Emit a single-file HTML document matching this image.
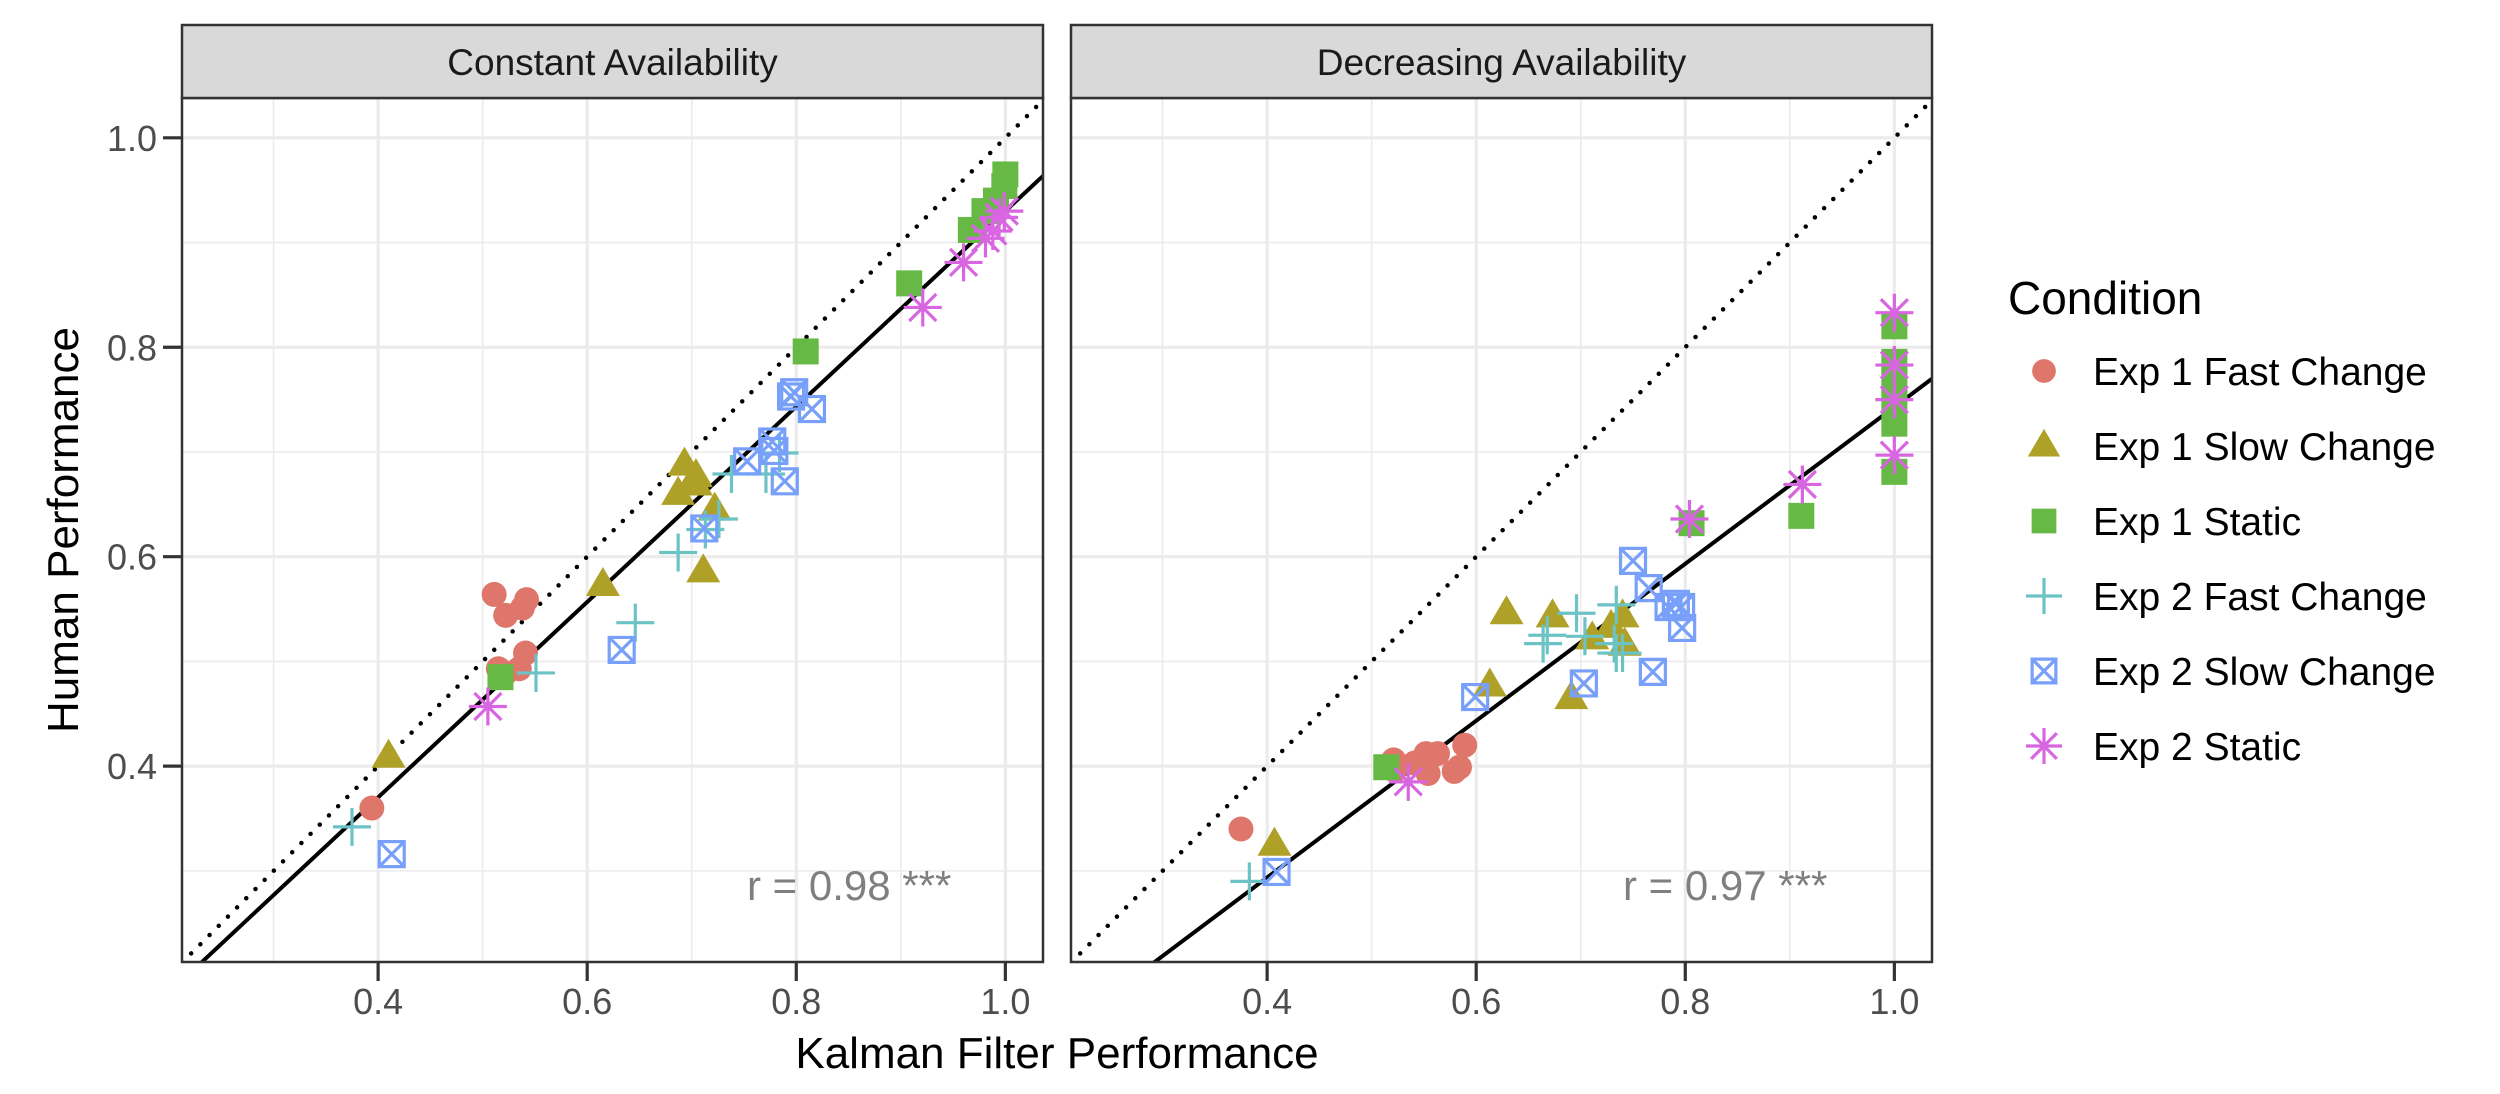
<!DOCTYPE html>
<html><head><meta charset="utf-8">
<style>
html,body{margin:0;padding:0;background:#fff;}
svg{display:block;font-family:"Liberation Sans",Arial,sans-serif;}
</style></head>
<body>
<svg id="chart" width="2500" height="1094" viewBox="0 0 2500 1094" xmlns="http://www.w3.org/2000/svg">
<g id="root"></g>
</svg>
<script>
// ---- data ----
const seriesNames = ["Exp 1 Fast Change","Exp 1 Slow Change","Exp 1 Static","Exp 2 Fast Change","Exp 2 Slow Change","Exp 2 Static"];
const panelTitles = ["Constant Availability","Decreasing Availability"];
const xTicks = [0.4,0.6,0.8,1.0];
const yTicks = [0.4,0.6,0.8,1.0];
const xTickLabels = ["0.4","0.6","0.8","1.0"];
const yTickLabels = ["0.4","0.6","0.8","1.0"];
const minorTicks = [0.3,0.5,0.7,0.9];
const corrLabels = ["r = 0.98 ***","r = 0.97 ***"];
const fitSlope = [0.933,0.749];
const fitIntercept = [-0.003,-0.006];

// Panel 1 (Constant)
const p1FastX1 = [0.394,0.511,0.522,0.542,0.538,0.541,0.535,0.515,0.522];
const p1FastY1 = [0.360,0.564,0.544,0.559,0.551,0.508,0.493,0.493,0.489];
const p1SlowX1 = [0.410,0.615,0.693,0.704,0.687,0.704,0.722,0.711];
const p1SlowY1 = [0.409,0.573,0.688,0.677,0.660,0.669,0.645,0.586];
const p1StatX1 = [0.517,0.809,0.908,0.967,0.980,0.991,0.999,1.000];
const p1StatY1 = [0.485,0.796,0.861,0.912,0.930,0.940,0.954,0.965];
const p1FastX2 = [0.375,0.551,0.646,0.687,0.713,0.726,0.738,0.771,0.784];
const p1FastY2 = [0.342,0.489,0.537,0.604,0.626,0.636,0.679,0.679,0.699];
const p1SlowX2 = [0.413,0.633,0.712,0.753,0.777,0.779,0.789,0.795,0.798,0.815];
const p1SlowY2 = [0.316,0.511,0.627,0.691,0.710,0.701,0.672,0.753,0.757,0.741];
const p1StatX2 = [0.505,0.921,0.960,0.981,0.988,0.994,0.999];
const p1StatY2 = [0.457,0.838,0.881,0.904,0.911,0.924,0.930];

// Panel 2 (Decreasing)
const p2FastX1 = [0.375,0.521,0.522,0.541,0.552,0.563,0.554,0.589,0.584,0.579];
const p2FastY1 = [0.340,0.406,0.396,0.403,0.412,0.412,0.393,0.420,0.399,0.395];
const p2SlowX1 = [0.407,0.613,0.629,0.673,0.691,0.711,0.729,0.740,0.742];
const p2SlowY1 = [0.325,0.477,0.546,0.543,0.465,0.522,0.533,0.543,0.516];
const p2StatX1 = [0.514,0.806,0.911,1.0,1.0,1.0,1.0,1.0,1.0];
const p2StatY1 = [0.399,0.632,0.639,0.820,0.786,0.769,0.750,0.727,0.681];
const p2FastX2 = [0.383,0.664,0.668,0.696,0.704,0.732,0.734,0.734,0.740];
const p2FastY2 = [0.290,0.517,0.525,0.546,0.524,0.517,0.554,0.508,0.508];
const p2SlowX2 = [0.409,0.599,0.703,0.750,0.765,0.769,0.784,0.791,0.796,0.797];
const p2SlowY2 = [0.299,0.466,0.479,0.596,0.570,0.490,0.552,0.555,0.552,0.532];
const p2StatX2 = [0.535,0.804,0.912,1.0,1.0,1.0,1.0];
const p2StatY2 = [0.385,0.636,0.669,0.833,0.783,0.750,0.697];

const panelData = [
  [[p1FastX1,p1FastY1],[p1SlowX1,p1SlowY1],[p1StatX1,p1StatY1],[p1FastX2,p1FastY2],[p1SlowX2,p1SlowY2],[p1StatX2,p1StatY2]],
  [[p2FastX1,p2FastY1],[p2SlowX1,p2SlowY1],[p2StatX1,p2StatY1],[p2FastX2,p2FastY2],[p2SlowX2,p2SlowY2],[p2StatX2,p2StatY2]]
];

// ---- layout ----
const colors = ["#DF766C","#AFA028","#66B944","#6CC3C6","#78A0FA","#D866E0"];
const panels = [{l:182,r:1043},{l:1071,r:1932}];
const panelTop = 98, panelBottom = 962, stripTop = 25;
const xMin = 0.2124, xMax = 1.036, yMin = 0.213, yMax = 1.038;
const NS = "http://www.w3.org/2000/svg";
const root = document.getElementById('root');

function mk(tag, attrs, parent){
  const e = document.createElementNS(NS, tag);
  for (const k in attrs) e.setAttribute(k, attrs[k]);
  (parent||root).appendChild(e);
  return e;
}
function xs(p, v){ return panels[p].l + (v - xMin)/(xMax - xMin)*(panels[p].r - panels[p].l); }
function ys(v){ return panelBottom - (v - yMin)/(yMax - yMin)*(panelBottom - panelTop); }

function drawSymbol(g, s, cx, cy, scale){
  const c = colors[s]; const k = scale||1;
  let e;
  if (s===0){ e = mk('circle',{cx:cx,cy:cy,r:12.5*k,fill:c},g); }
  else if (s===1){ const w=17*k,h=29*k; e = mk('polygon',{points:`${cx},${cy-h*0.62} ${cx-w},${cy+h*0.38} ${cx+w},${cy+h*0.38}`,fill:c},g); }
  else if (s===2){ const a=13*k; e = mk('rect',{x:cx-a,y:cy-a,width:2*a,height:2*a,fill:c},g); }
  else if (s===3){ const a=19*k; e = mk('path',{d:`M${cx-a},${cy}H${cx+a}M${cx},${cy-a}V${cy+a}`,stroke:c,'stroke-width':3.2,fill:'none'},g); }
  else if (s===4){ const a=12.5*k; e = mk('path',{d:`M${cx-a},${cy-a}h${2*a}v${2*a}h${-2*a}zM${cx-a},${cy-a}L${cx+a},${cy+a}M${cx+a},${cy-a}L${cx-a},${cy+a}`,stroke:c,'stroke-width':3.2,fill:'none'},g); }
  else { const a=19*k,d=13.5*k; e = mk('path',{d:`M${cx-a},${cy}H${cx+a}M${cx},${cy-a}V${cy+a}M${cx-d},${cy-d}L${cx+d},${cy+d}M${cx+d},${cy-d}L${cx-d},${cy+d}`,stroke:c,'stroke-width':3.2,fill:'none'},g); }
  return e;
}

for (let p=0;p<2;p++){
  const P = panels[p];
  const pg = mk('g',{});
  
  
  const bg = mk('rect',{x:P.l,y:panelTop,width:P.r-P.l,height:panelBottom-panelTop,fill:'#fff'},pg);
  
  
  minorTicks.forEach(v=>{
    const gx = mk('line',{x1:xs(p,v),x2:xs(p,v),y1:panelTop,y2:panelBottom,stroke:'#EBEBEB','stroke-width':1.6},pg);
    
    
    const gy = mk('line',{x1:P.l,x2:P.r,y1:ys(v),y2:ys(v),stroke:'#EBEBEB','stroke-width':1.6},pg);
    
    
  });
  xTicks.forEach((v,i)=>{
    const gx = mk('line',{x1:xs(p,v),x2:xs(p,v),y1:panelTop,y2:panelBottom,stroke:'#EBEBEB','stroke-width':3.2},pg);
    
    
    const t = mk('line',{x1:xs(p,v),x2:xs(p,v),y1:panelBottom,y2:panelBottom+19,stroke:'#333','stroke-width':3.2},pg);
    
    
    const tl = mk('text',{x:xs(p,v),y:1014,'text-anchor':'middle','font-size':36,fill:'#4D4D4D'},pg);
    tl.textContent = xTickLabels[i];
    
    
  });
  yTicks.forEach(v=>{
    const gy = mk('line',{x1:P.l,x2:P.r,y1:ys(v),y2:ys(v),stroke:'#EBEBEB','stroke-width':3.2},pg);
    
    
  });
  const clipId = 'clip'+p;
  const cp = mk('clipPath',{id:clipId},pg);
  mk('rect',{x:P.l,y:panelTop,width:P.r-P.l,height:panelBottom-panelTop},cp);
  const cg = mk('g',{'clip-path':`url(#${clipId})`},pg);
  const ref = mk('line',{x1:xs(p,xMin),y1:ys(xMin),x2:xs(p,xMax),y2:ys(xMax),stroke:'#000','stroke-width':4.5,'stroke-dasharray':'0 13','stroke-linecap':'round'},cg);
  
  
  const fx1 = xMin, fx2 = xMax;
  const fit = mk('line',{x1:xs(p,fx1),y1:ys(fitSlope[p]*fx1+fitIntercept[p]),x2:xs(p,fx2),y2:ys(fitSlope[p]*fx2+fitIntercept[p]),stroke:'#000','stroke-width':4},cg);
  
  
  panelData[p].forEach((ser,s)=>{
    const sg = mk('g',{},cg);
    
    
    ser[0].forEach((xv,i)=>{
      const m = drawSymbol(sg, s, xs(p,xv), ys(ser[1][i]));
      
      
    });
  });
  const ct = mk('text',{x:p===0?747:1623,y:900,'font-size':42,fill:'#7F7F7F'},pg);
  ct.textContent = corrLabels[p];
  
  
  const br = mk('rect',{x:P.l,y:panelTop,width:P.r-P.l,height:panelBottom-panelTop,fill:'none',stroke:'#333','stroke-width':2.5},pg);
  
  
  const st = mk('rect',{x:P.l,y:stripTop,width:P.r-P.l,height:panelTop-stripTop,fill:'#D9D9D9',stroke:'#333','stroke-width':2.5},pg);
  
  
  const stt = mk('text',{x:(P.l+P.r)/2,y:75,'text-anchor':'middle','font-size':37,fill:'#1A1A1A'},pg);
  stt.textContent = panelTitles[p];
  
  
}
yTicks.forEach((v,i)=>{
  const t = mk('line',{x1:163,x2:182,y1:ys(v),y2:ys(v),stroke:'#333','stroke-width':3.2});
  
  
  const tl = mk('text',{x:157,y:ys(v)+13,'text-anchor':'end','font-size':36,fill:'#4D4D4D'});
  tl.textContent = yTickLabels[i];
  
  
});
const xt = mk('text',{x:1057,y:1068,'text-anchor':'middle','font-size':44,fill:'#000'});
xt.textContent = 'Kalman Filter Performance';


const yt = mk('text',{x:0,y:0,'text-anchor':'middle','font-size':44,fill:'#000',transform:`translate(78,${(panelTop+panelBottom)/2}) rotate(-90)`});
yt.textContent = 'Human Performance';


const lg = mk('g',{});


const ltitle = mk('text',{x:2008,y:314,'font-size':46,fill:'#000'},lg);
ltitle.textContent = 'Condition';


seriesNames.forEach((n,s)=>{
  const cy = 371 + s*75;
  const eg = mk('g',{},lg);
  
  
  drawSymbol(eg, s, 2044, cy, 0.95);
  const t = mk('text',{x:2093,y:cy+14,'font-size':39,fill:'#000'},eg);
  t.textContent = n;
  
  
});
</script>
</body></html>
